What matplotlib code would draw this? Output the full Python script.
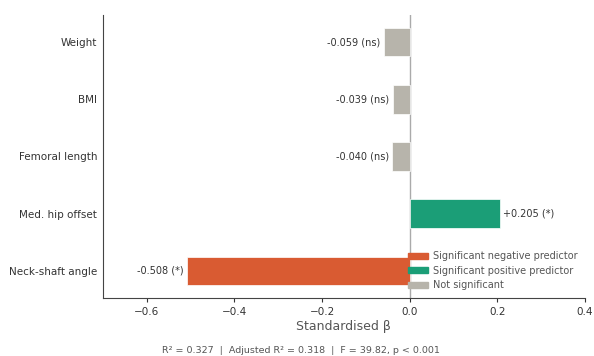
import matplotlib.pyplot as plt
from matplotlib.patches import Patch

# --- data ---
predictors = ['Weight', 'BMI', 'Femoral length', 'Med. hip offset', 'Neck-shaft angle']
beta = [-0.059, -0.039, -0.040, 0.205, -0.508]
sig = ['ns', 'ns', 'ns', '*', '*']

clr_neg = '#D95B32'
clr_pos = '#1B9E77'
clr_ns = '#B7B4AB'

def bar_color(b, s):
    if s == 'ns':
        return clr_ns
    return clr_pos if b > 0 else clr_neg

fig = plt.figure(figsize=(5.94, 3.56), dpi=100)
ax = fig.add_axes([0.173, 0.163, 0.812, 0.795])

ypos = list(range(len(predictors)))[::-1]
colors = [bar_color(b, s) for b, s in zip(beta, sig)]
ax.barh(ypos, beta, height=0.5, color=colors, edgecolor='white', linewidth=0.5, zorder=2)
ax.axvline(0, color='#aaaaaa', linewidth=1, zorder=1)

# --- value labels ---
for y, b, s in zip(ypos, beta, sig):
    lbl = f'{b:+.3f} ({s})' if b > 0 else f'{b:.3f} ({s})'
    off = 0.008 if b > 0 else -0.008
    ax.text(b + off, y, lbl, ha='left' if b > 0 else 'right', va='center',
            fontsize=7, color='#333333')

ax.set_yticks(ypos)
ax.set_yticklabels(predictors, fontsize=7.5, color='#333333')
ax.tick_params(axis='y', length=0, pad=4)
ax.tick_params(axis='x', labelsize=7.5, colors='#333333', length=3)
ax.set_xlim(-0.7, 0.4)
ax.set_xticks([-0.6, -0.4, -0.2, 0.0, 0.2, 0.4])
ax.set_xlabel('Standardised β', fontsize=9, color='#555555', labelpad=2)
for sp in ['top', 'right']:
    ax.spines[sp].set_visible(False)
for sp in ['left', 'bottom']:
    ax.spines[sp].set_color('#444444')
    ax.spines[sp].set_linewidth(0.8)

handles = [Patch(color=clr_neg, label='Significant negative predictor'),
           Patch(color=clr_pos, label='Significant positive predictor'),
           Patch(color=clr_ns, label='Not significant')]
leg = ax.legend(handles=handles, loc='lower right', frameon=False, fontsize=7,
                handlelength=2.0, handleheight=0.6, labelspacing=0.45,
                borderaxespad=0.6, handletextpad=0.5, borderpad=0.2)
for t in leg.get_texts():
    t.set_color('#555555')

fig.text(0.507, 0.004, 'R² = 0.327  |  Adjusted R² = 0.318  |  F = 39.82, p < 0.001',
         ha='center', va='bottom', fontsize=6.8, color='#555555')

fig.savefig('out.png', dpi=100)
